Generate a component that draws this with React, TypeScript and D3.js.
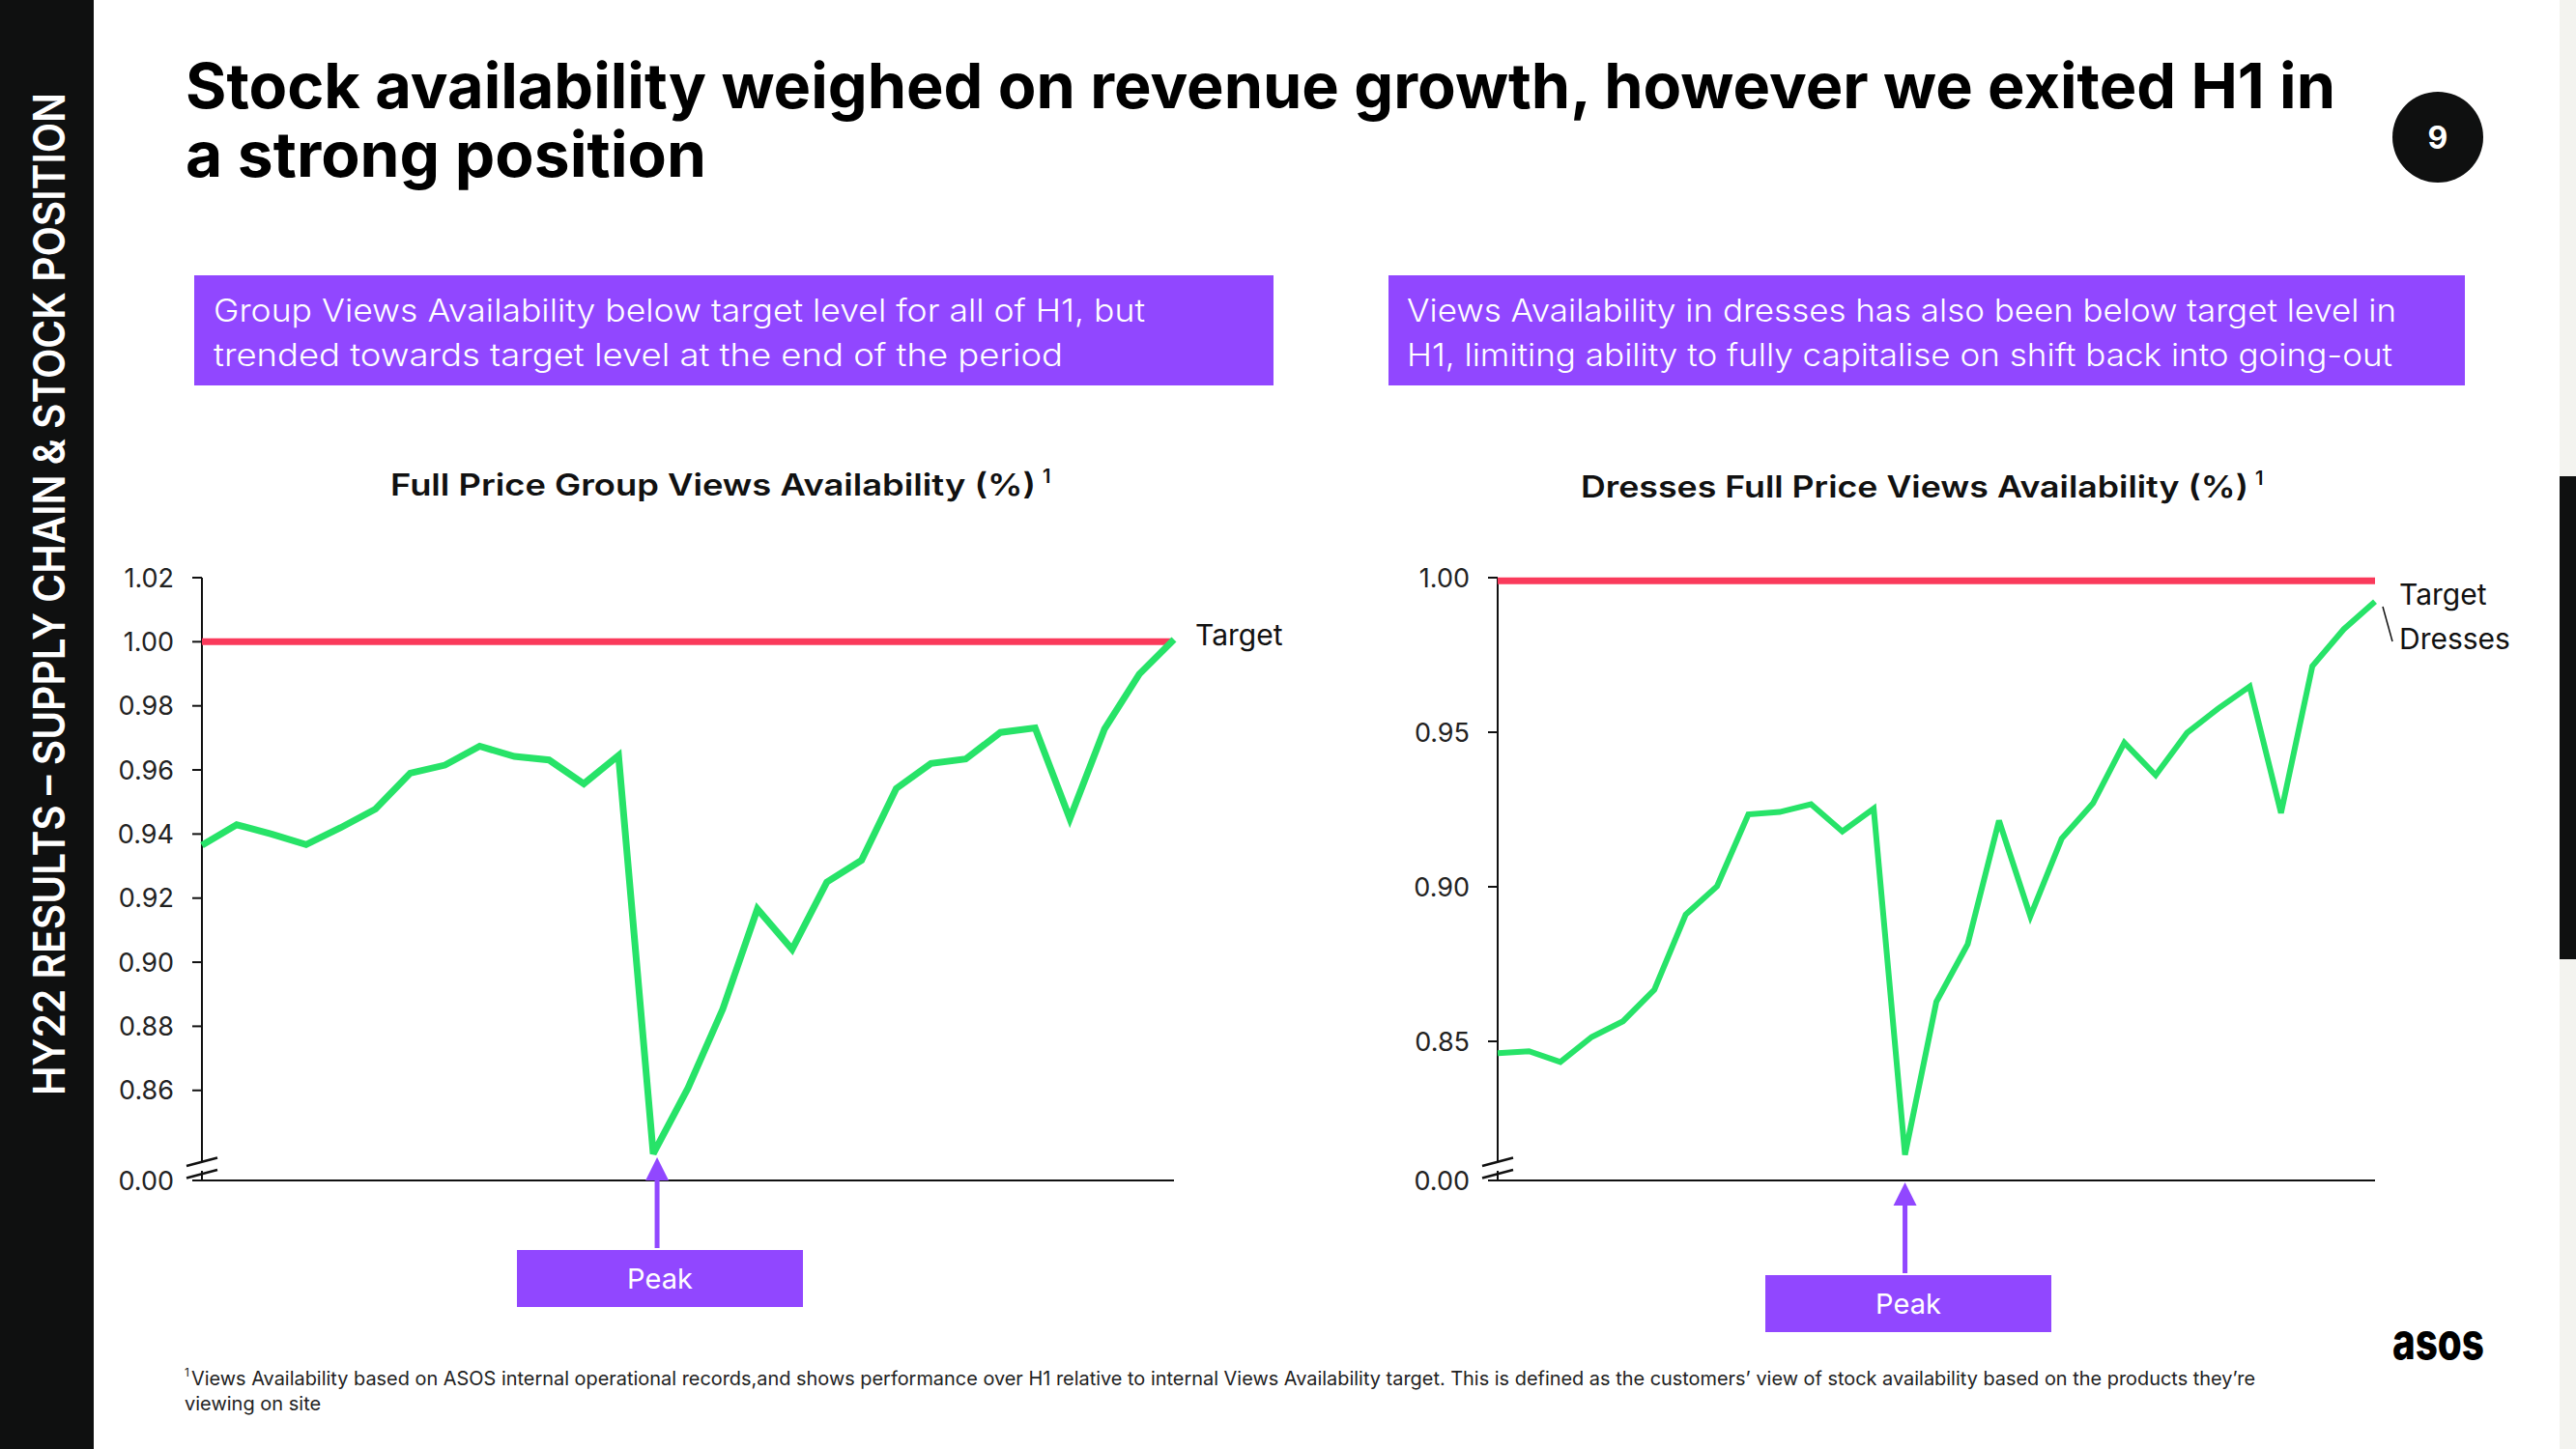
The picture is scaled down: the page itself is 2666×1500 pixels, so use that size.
import React from "react";
import * as d3 from "d3";

// ---------- data ----------
const weeks = ["W1","W2","W3","W4","W5","W6","W7","W8","W9","W10","W11","W12","W13","W14","W15","W16","W17","W18","W19","W20","W21","W22","W23","W24","W25","W26","W27","W28","W29"];
const groupValues = [0.9365,0.9429,0.940,0.9367,0.942,0.9478,0.959,0.9615,0.9674,0.9642,0.9631,0.9557,0.9645,0.8402,0.8607,0.8853,0.9166,0.904,0.925,0.9318,0.9542,0.962,0.9634,0.9717,0.9731,0.9448,0.9728,0.9899,1.0007];
const dressesValues = [0.8462,0.8468,0.8433,0.8514,0.8565,0.8667,0.8910,0.9002,0.9234,0.9242,0.9267,0.9179,0.9253,0.8133,0.8628,0.8814,0.9214,0.8905,0.9156,0.9270,0.9466,0.9361,0.9498,0.9577,0.9648,0.9239,0.9714,0.9833,0.9923];
const groupTarget = 1.0;
const dressesTarget = 0.999;
const groupTicks = [0.86,0.88,0.90,0.92,0.94,0.96,0.98,1.00,1.02];
const dressesTicks = [0.85,0.90,0.95,1.00];
const peakWeek = "W14";

const PURPLE = "#9147FF";
const GREEN = "#27E368";
const RED = "#FA3A5B";
const INK = "#111111";
const FONT = "Inter, 'Open Sans', sans-serif";

type ChartProps = {
  values: number[];
  target: number;
  ticks: number[];
  yDom: [number, number];
  yRange: [number, number];
  x0: number;
  x1: number;
  axisEnd: number;
  targetEnd: number;
  strokeW: number;
};

function Chart({ values, target, ticks, yDom, yRange, x0, x1, axisEnd, targetEnd, strokeW }: ChartProps) {
  const x = d3.scalePoint<string>().domain(weeks).range([x0, x1]);
  const y = d3.scaleLinear().domain(yDom).range(yRange);
  const line = d3.line<number>().x((_, i) => x(weeks[i]) as number).y((d) => y(d));
  const baseY = 1222;
  const top = y(ticks[ticks.length - 1]);
  return (
    <g>
      {/* y axis */}
      <line x1={x0} x2={x0} y1={top} y2={1202} stroke={INK} strokeWidth={2} />
      <line x1={x0} x2={x0} y1={1212} y2={baseY} stroke={INK} strokeWidth={2} />
      <line x1={x0 - 16} x2={x0 + 16} y1={1207} y2={1198.5} stroke={INK} strokeWidth={2.5} />
      <line x1={x0 - 16} x2={x0 + 16} y1={1219.5} y2={1211} stroke={INK} strokeWidth={2.5} />
      {/* x axis */}
      <line x1={x0 - 10} x2={axisEnd} y1={baseY} y2={baseY} stroke={INK} strokeWidth={2} />
      {ticks.map((t) => (
        <g key={t}>
          <line x1={x0 - 10} x2={x0} y1={y(t)} y2={y(t)} stroke={INK} strokeWidth={2} />
          <text x={x0 - 29} y={y(t)} dy="0.36em" textAnchor="end" fontFamily={FONT} fontSize={27} fill="#222">
            {t.toFixed(2)}
          </text>
        </g>
      ))}
      <text x={x0 - 29} y={baseY} dy="0.36em" textAnchor="end" fontFamily={FONT} fontSize={27} fill="#222">0.00</text>
      {/* target */}
      <line x1={x0} x2={targetEnd} y1={y(target)} y2={y(target)} stroke={RED} strokeWidth={7} />
      {/* series */}
      <path d={line(values) as string} fill="none" stroke={GREEN} strokeWidth={strokeW} strokeLinejoin="miter" strokeMiterlimit={3} />
    </g>
  );
}

function Peak({ cx, tipY, boxTop, boxL, boxR }: { cx: number; tipY: number; boxTop: number; boxL: number; boxR: number }) {
  return (
    <g>
      <line x1={cx} x2={cx} y1={tipY + 20} y2={boxTop - 2} stroke={PURPLE} strokeWidth={5} />
      <path d={`M${cx},${tipY} L${cx - 12},${tipY + 24} L${cx + 12},${tipY + 24} Z`} fill={PURPLE} />
      <rect x={boxL} y={boxTop} width={boxR - boxL} height={59} fill={PURPLE} />
      <text x={(boxL + boxR) / 2} y={boxTop + 40} textAnchor="middle" fontFamily={FONT} fontSize={29} fill="#fff">Peak</text>
    </g>
  );
}

export default function App() {
  const xl = d3.scalePoint<string>().domain(weeks).range([209, 1215]);
  const xr = d3.scalePoint<string>().domain(weeks).range([1550, 2458]);
  return (
    <svg width={2666} height={1500} viewBox="0 0 2666 1500" style={{ position: "absolute", left: 0, top: 0, background: "#fff" }}>
      <rect x={0} y={0} width={2666} height={1500} fill="#fff" />
      {/* side bar */}
      <rect x={0} y={0} width={97} height={1500} fill="#0F1010" />
      <text transform="translate(67,615) rotate(-90)" textAnchor="middle" fontFamily={FONT} fontWeight={600} fontSize={45} fill="#fff" textLength={1038} lengthAdjust="spacingAndGlyphs">
        HY22 RESULTS – SUPPLY CHAIN &amp; STOCK POSITION
      </text>
      {/* right edge */}
      <rect x={2649} y={0} width={17} height={1500} fill="#F3F3EF" />
      <rect x={2649} y={493} width={17} height={500} fill="#0F1010" />
      {/* title */}
      <text x={192} y={112} fontFamily={FONT} fontWeight={700} fontSize={65} fill="#000" textLength={2225} lengthAdjust="spacingAndGlyphs">
        Stock availability weighed on revenue growth, however we exited H1 in
      </text>
      <text x={192} y={183} fontFamily={FONT} fontWeight={700} fontSize={65} fill="#000" textLength={539} lengthAdjust="spacingAndGlyphs">
        a strong position
      </text>
      <circle cx={2523} cy={142} r={47} fill="#0F1010" />
      <text x={2523} y={142} dy="0.36em" textAnchor="middle" fontFamily={FONT} fontWeight={700} fontSize={32} fill="#fff">9</text>
      {/* boxes */}
      <rect x={201} y={285} width={1117} height={114} fill={PURPLE} />
      <text x={221} y={333} fontFamily={FONT} fontWeight={300} fontSize={33} fill="#fff" textLength={964} lengthAdjust="spacingAndGlyphs">
        Group Views Availability below target level for all of H1, but
      </text>
      <text x={221} y={379} fontFamily={FONT} fontWeight={300} fontSize={33} fill="#fff" textLength={879} lengthAdjust="spacingAndGlyphs">
        trended towards target level at the end of the period
      </text>
      <rect x={1437} y={285} width={1114} height={114} fill={PURPLE} />
      <text x={1456} y={333} fontFamily={FONT} fontWeight={300} fontSize={33} fill="#fff" textLength={1024} lengthAdjust="spacingAndGlyphs">
        Views Availability in dresses has also been below target level in
      </text>
      <text x={1456} y={379} fontFamily={FONT} fontWeight={300} fontSize={33} fill="#fff" textLength={1020} lengthAdjust="spacingAndGlyphs">
        H1, limiting ability to fully capitalise on shift back into going-out
      </text>
      {/* chart titles */}
      <text x={404} y={513} fontFamily={FONT} fontWeight={600} fontSize={31} fill="#111" textLength={668} lengthAdjust="spacingAndGlyphs">
        Full Price Group Views Availability (%)
      </text>
      <text x={1079} y={500} fontFamily={FONT} fontWeight={600} fontSize={20} fill="#111">1</text>
      <text x={1636} y={515} fontFamily={FONT} fontWeight={600} fontSize={31} fill="#111" textLength={691} lengthAdjust="spacingAndGlyphs">
        Dresses Full Price Views Availability (%)
      </text>
      <text x={2334} y={502} fontFamily={FONT} fontWeight={600} fontSize={20} fill="#111">1</text>

      <Chart values={groupValues} target={groupTarget} ticks={groupTicks} yDom={[0.86, 1.02]} yRange={[1128.75, 598]} x0={209} x1={1215} axisEnd={1215} targetEnd={1213} strokeW={7} />
      <Chart values={dressesValues} target={dressesTarget} ticks={dressesTicks} yDom={[0.85, 1.0]} yRange={[1078, 598]} x0={1550} x1={2458} axisEnd={2458} targetEnd={2458} strokeW={6} />

      {/* series labels */}
      <text x={1237} y={668} fontFamily={FONT} fontSize={30} fill="#111">Target</text>
      <text x={2483} y={626} fontFamily={FONT} fontSize={30} fill="#111">Target</text>
      <text x={2483} y={672} fontFamily={FONT} fontSize={30} fill="#111">Dresses</text>
      <line x1={2466} y1={628} x2={2476} y2={664} stroke={INK} strokeWidth={1.5} />

      {/* peak annotations */}
      <Peak cx={(xl(peakWeek) as number) + 4} tipY={1198} boxTop={1294} boxL={535} boxR={831} />
      <Peak cx={xr(peakWeek) as number} tipY={1224} boxTop={1320} boxL={1827} boxR={2123} />

      {/* footnote */}
      <text x={191} y={1425} fontFamily={FONT} fontSize={12} fill="#222">1</text>
      <text x={198} y={1434} fontFamily={FONT} fontSize={20} fill="#222" textLength={2136} lengthAdjust="spacingAndGlyphs">
        Views Availability based on ASOS internal operational records,and shows performance over H1 relative to internal Views Availability target. This is defined as the customers’ view of stock availability based on the products they’re
      </text>
      <text x={191} y={1460} fontFamily={FONT} fontSize={20} fill="#222">viewing on site</text>
      {/* logo */}
      <text x={2476} y={1407} fontFamily={FONT} fontWeight={800} fontSize={52} fill="#000" textLength={95} lengthAdjust="spacingAndGlyphs">asos</text>
    </svg>
  );
}
